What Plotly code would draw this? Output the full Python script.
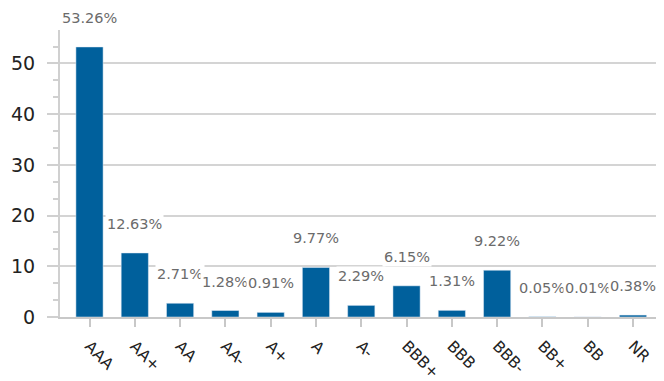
import plotly.graph_objects as go

# ratings breakdown (%)
ratings = ["AAA", "AA+", "AA", "AA-", "A+", "A", "A-", "BBB+", "BBB", "BBB-", "BB+", "BB", "NR"]
weights = [53.26, 12.63, 2.71, 1.28, 0.91, 9.77, 2.29, 6.15, 1.31, 9.22, 0.05, 0.01, 0.38]

BAR = "#00609c"
GRID = "#d4d4d4"

fig = go.Figure(go.Bar(
        x=ratings,
        y=weights,
        marker_color=BAR,
        width=0.6,
        hoverinfo="x+y",
))

# value labels on white boxes so they break the gridlines like the original
for r, w in zip(ratings, weights):
    fig.add_annotation(
            x=r, y=w,
            text=f"{w:.2f}%",
            showarrow=False,
            yanchor="bottom",
            yshift=19,
            bgcolor="white",
            borderpad=1,
            font=dict(family="DejaVu Sans", size=14.5, color="#6b6b6b"),
    )

# page body has an 8px margin, so margins are offset to land where the original sits
fig.update_layout(
        autosize=False,
        width=664,
        height=381,
        margin=dict(l=52, r=14, t=22, b=72),
        plot_bgcolor="white",
        paper_bgcolor="white",
        showlegend=False,
        bargap=0.4,
)

fig.update_xaxes(
        automargin=False,
        showline=True,
        linecolor="#c8c8c8",
        linewidth=2,
        ticks="outside",
        ticklen=8,
        tickwidth=2,
        tickcolor="#c8c8c8",
        tickangle=45,
        ticklabelstandoff=4,
        tickfont=dict(family="DejaVu Sans", size=15.5, color="#222222"),
        showgrid=False,
)

fig.update_yaxes(
        automargin=False,
        range=[0, 56.6],
        dtick=10,
        showline=True,
        linecolor="#d0d0d0",
        linewidth=2,
        ticks="outside",
        ticklen=11,
        tickwidth=2,
        tickcolor="#d0d0d0",
        ticklabelstandoff=8,
        showgrid=True,
        gridcolor=GRID,
        gridwidth=2,
        zeroline=False,
        tickfont=dict(family="DejaVu Sans", size=19, color="#222222"),
        minor=dict(dtick=10 / 3, ticks="outside", ticklen=5, tickwidth=2,
                   tickcolor="#d0d0d0", showgrid=False),
)

fig.write_html("out.html")
